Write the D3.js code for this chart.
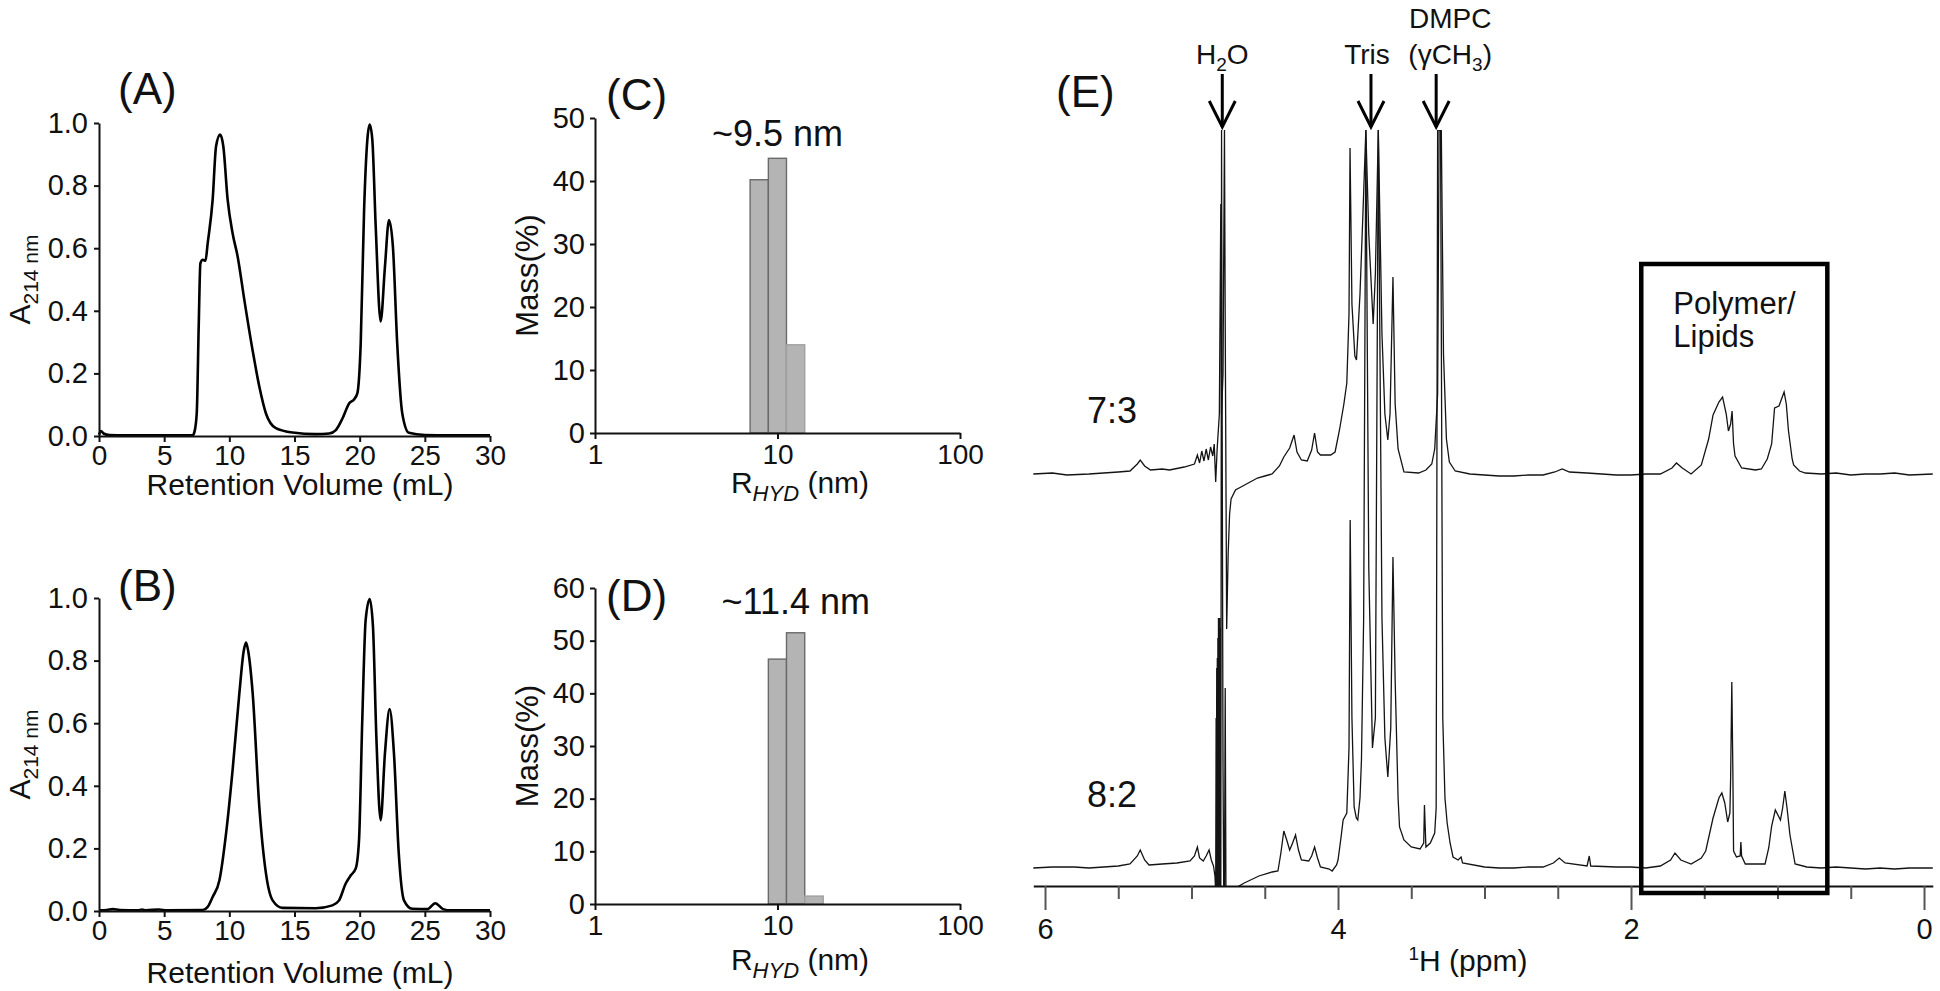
<!DOCTYPE html>
<html>
<head>
<meta charset="utf-8">
<script src="https://d3js.org/d3.v7.min.js"></script>
<style>
  html, body { margin: 0; padding: 0; background: #fff; }
  svg text { font-family: "Liberation Sans", Arial, Helvetica, sans-serif; fill: #111; }
</style>
</head>
<body>
<script>
// ---------- data ----------

// SEC traces: [retention volume (mL), A214]
const secTicksX = [0, 5, 10, 15, 20, 25, 30];
const secTicksY = [0, 0.2, 0.4, 0.6, 0.8, 1.0];

const secA = [
  [0, 0.004], [0.15, 0.016], [0.35, 0.008], [0.8, 0.003], [2, 0.002], [4, 0.002], [6, 0.002],
  [7.2, 0.003], [7.33, 0.014], [7.5, 0.073], [7.65, 0.35], [7.78, 0.552], [7.96, 0.563],
  [8.17, 0.56], [8.34, 0.616], [8.72, 0.755], [8.98, 0.925], [9.29, 0.963], [9.54, 0.925],
  [9.87, 0.755], [10.25, 0.648], [10.64, 0.573], [11.15, 0.435], [11.78, 0.275], [12.3, 0.158],
  [12.81, 0.072], [13.57, 0.025], [14.85, 0.011], [16.64, 0.006], [17.66, 0.008], [18.17, 0.019],
  [18.68, 0.056], [19.19, 0.104], [19.57, 0.117], [19.82, 0.136], [20.08, 0.296], [20.34, 0.723],
  [20.59, 0.947], [20.77, 0.995], [20.97, 0.947], [21.23, 0.67], [21.61, 0.366], [21.94, 0.541],
  [22.25, 0.69], [22.55, 0.605], [22.88, 0.296], [23.27, 0.072], [23.78, 0.01], [25, 0.003],
  [27, 0.002], [30, 0.002]
];

const secB = [
  [0, 0.002], [0.6, 0.003], [1.05, 0.006], [1.6, 0.003], [3.0, 0.002], [3.3, 0.005], [3.6, 0.002],
  [4.6, 0.005], [5.2, 0.002], [7.96, 0.003], [8.34, 0.013], [8.72, 0.045], [9.24, 0.098],
  [9.75, 0.248], [10.25, 0.45], [10.77, 0.696], [11.1, 0.83], [11.28, 0.858], [11.45, 0.83],
  [11.79, 0.696], [12.3, 0.333], [12.81, 0.12], [13.32, 0.034], [14.08, 0.01], [16.64, 0.009],
  [17.91, 0.018], [18.42, 0.034], [18.93, 0.088], [19.32, 0.114], [19.7, 0.136], [19.95, 0.226],
  [20.2, 0.61], [20.46, 0.93], [20.77, 0.997], [21.02, 0.909], [21.28, 0.557], [21.61, 0.29],
  [21.94, 0.504], [22.3, 0.645], [22.63, 0.504], [23.0, 0.184], [23.4, 0.034], [24.03, 0.007],
  [25.2, 0.006], [25.8, 0.025], [26.4, 0.006], [27, 0.002], [30, 0.002]
];

// DLS histograms: bin edges (nm) and mass (%)
const rhydTicks = [1, 10, 100];
const massTicksC = [0, 10, 20, 30, 40, 50];
const massTicksD = [0, 10, 20, 30, 40, 50, 60];
const binEdgesC = [7.08, 8.91, 11.2, 14.1];
const massC = [40.2, 43.6, 14.0];
const binEdgesD = [8.91, 11.2, 14.1, 17.8];
const massD = [46.5, 51.5, 1.5];

// 1H NMR traces: [ppm, intensity (a.u.)]
const ppmTicks = [6, 4, 2, 0];
const ppmMinorTicks = [5.5, 5, 4.5, 3.5, 3, 2.5, 1.5, 1, 0.5];

const nmr73 = [
  [6.08, 0], [5.95, 1], [5.85, -1], [5.7, 0], [5.6, 1], [5.5, 2], [5.42, 3], [5.37, 10], [5.35, 14],
  [5.32, 8], [5.28, 4], [5.2, 5], [5.15, 4], [5.05, 7], [4.98, 10], [4.96, 19], [4.945, 11],
  [4.93, 23], [4.915, 13], [4.90, 25], [4.885, 14], [4.87, 27], [4.855, 18], [4.845, 30],
  [4.835, -8], [4.825, 25], [4.81, 60], [4.80, 270], [4.795, 60], [4.785, 100], [4.775, 344],
  [4.77, 150], [4.76, -155], [4.75, -80], [4.74, -40], [4.73, -25], [4.70, -16], [4.65, -12],
  [4.6, -8], [4.55, -4], [4.5, -2], [4.45, 0], [4.4, 8], [4.37, 17], [4.33, 26], [4.30, 39],
  [4.28, 22], [4.25, 14], [4.21, 13], [4.18, 24], [4.16, 41], [4.14, 22], [4.12, 19], [4.05, 19],
  [4.02, 22], [3.99, 44], [3.96, 70], [3.94, 91], [3.925, 160], [3.918, 326], [3.905, 170],
  [3.885, 118], [3.874, 114], [3.85, 180], [3.83, 260], [3.81, 344], [3.79, 240], [3.76, 150],
  [3.745, 200], [3.725, 344], [3.70, 140], [3.68, 60], [3.66, 34], [3.645, 60], [3.625, 197],
  [3.61, 70], [3.59, 25], [3.55, 2], [3.45, 1], [3.40, 4], [3.36, 10], [3.34, 25], [3.32, 80],
  [3.31, 344], [3.295, 344], [3.28, 120], [3.26, 35], [3.24, 12], [3.2, 3], [3.1, 0], [3.0, -1],
  [2.9, -2], [2.8, -2], [2.7, -1], [2.6, -1], [2.52, 2], [2.47, 5], [2.42, 2], [2.3, 1], [2.2, 0],
  [2.1, -1], [2.0, -1], [1.9, 0], [1.8, 0], [1.72, 6], [1.69, 11], [1.65, 6], [1.59, 0],
  [1.52, 9], [1.47, 35], [1.44, 59], [1.40, 72], [1.375, 77], [1.35, 60], [1.335, 43], [1.32, 50],
  [1.31, 63], [1.30, 30], [1.29, 18], [1.245, 6], [1.15, 4], [1.11, 5], [1.07, 15], [1.04, 30],
  [1.02, 66], [0.99, 68], [0.975, 74], [0.955, 82], [0.94, 70], [0.925, 43], [0.9, 15],
  [0.89, 9], [0.85, 3], [0.81, 1], [0.7, 0], [0.6, 1], [0.5, -1], [0.4, 0], [0.3, 0],
  [0.2, 1], [0.1, -1], [-0.06, 0]
];

const nmr82 = [
  [6.08, 0], [5.95, 1], [5.8, 1], [5.7, 0], [5.6, 1], [5.5, 2], [5.42, 4], [5.37, 12], [5.35, 18],
  [5.32, 8], [5.29, 3], [5.2, 4], [5.1, 5], [5.01, 7], [4.98, 12], [4.96, 21], [4.945, 10],
  [4.92, 7], [4.9, 12], [4.88, 18], [4.865, 8], [4.85, 2], [4.84, -8], [4.835, -25],
  [4.832, 150], [4.83, -25], [4.828, 200], [4.826, -25], [4.824, 210], [4.822, -25],
  [4.82, 230], [4.818, -25], [4.816, 250], [4.814, -25], [4.812, 250], [4.81, -25],
  [4.808, 250], [4.806, -25], [4.804, 240], [4.80, -25], [4.795, 738], [4.79, 400],
  [4.785, 100], [4.78, -25], [4.775, -25], [4.77, 180], [4.765, -25], [4.74, -25],
  [4.70, -20], [4.64, -15], [4.54, -8], [4.45, -4], [4.41, -3], [4.39, 15], [4.37, 37],
  [4.35, 28], [4.33, 18], [4.31, 25], [4.29, 33], [4.27, 18], [4.25, 8], [4.2, 7], [4.18, 12],
  [4.16, 21], [4.14, 10], [4.12, 1], [4.06, -1], [4.04, -3], [4.01, 3], [4.00, 8], [3.98, 30],
  [3.965, 48], [3.94, 55], [3.925, 120], [3.917, 348], [3.905, 150], [3.89, 61], [3.875, 50],
  [3.865, 48], [3.85, 70], [3.84, 108], [3.825, 250], [3.81, 738], [3.79, 300], [3.765, 120],
  [3.745, 150], [3.725, 738], [3.70, 250], [3.68, 130], [3.66, 91], [3.64, 140], [3.625, 311],
  [3.61, 188], [3.59, 70], [3.58, 41], [3.55, 28], [3.50, 21], [3.44, 19], [3.415, 25],
  [3.41, 63], [3.40, 21], [3.37, 25], [3.34, 35], [3.33, 60], [3.32, 738], [3.30, 738],
  [3.285, 150], [3.27, 70], [3.255, 45], [3.235, 25], [3.215, 11], [3.18, 8], [3.16, 11],
  [3.15, 5], [3.0, 1], [2.9, 0], [2.8, 0], [2.7, 1], [2.6, 1], [2.53, 5], [2.49, 10], [2.45, 5],
  [2.3, 2], [2.285, 12], [2.275, 2], [2.1, 1], [2.0, 1], [1.9, 0], [1.8, 2], [1.73, 8],
  [1.70, 15], [1.66, 8], [1.59, 4], [1.52, 10], [1.49, 17], [1.44, 50], [1.40, 70], [1.38, 75],
  [1.36, 65], [1.34, 46], [1.325, 55], [1.32, 90], [1.312, 186], [1.305, 100], [1.30, 17],
  [1.28, 11], [1.255, 12], [1.25, 26], [1.245, 12], [1.22, 4], [1.085, 4], [1.06, 20], [1.04, 42],
  [1.015, 58], [0.98, 48], [0.965, 60], [0.95, 77], [0.935, 60], [0.915, 33], [0.88, 4],
  [0.8, 1], [0.7, 0], [0.6, 1], [0.5, 0], [0.4, -1], [0.3, 0], [0.2, -1], [0.1, 0], [-0.06, 0]
];

// arrows above the spectra: label lines, the shift they point at, label offset (px)
const peakMarks = [
  { lines: [["H", "2", "O"]], ppm: 4.79, dx: 0 },
  { lines: [["Tris"]], ppm: 3.775, dx: -4 },
  { lines: [["DMPC"], ["(\u03B3CH", "3", ")"]], ppm: 3.33, dx: 14 }
];
const ratioLabels = ["7:3", "8:2"];
const boxRange = [1.93, 0.66];

// ---------- drawing ----------
const W = 1940, H = 991;
const svg = d3.select("body").append("svg").attr("width", W).attr("height", H);

function styleAxis(g, size) {
  g.select(".domain").attr("stroke", "#111").attr("stroke-width", 2);
  g.selectAll(".tick line").attr("stroke", "#111").attr("stroke-width", 2);
  g.selectAll(".tick text").attr("font-size", size).attr("fill", "#111")
    .attr("font-family", "'Liberation Sans', Arial, sans-serif");
}

function panelTag(x, y, s) {
  svg.append("text").attr("x", x).attr("y", y).attr("font-size", 44).text(s);
}

// SEC panels (A), (B)
function secPanel(data, top, bottom, tag, tagY, titleY) {
  const x = d3.scaleLinear().domain([0, 30]).range([99, 490]);
  const y = d3.scaleLinear().domain([0, 1]).range([bottom, top]);
  const g = svg.append("g");

  g.append("path").datum(data)
    .attr("fill", "none").attr("stroke", "#000").attr("stroke-width", 2.6)
    .attr("stroke-linejoin", "round")
    .attr("d", d3.line().x(d => x(d[0])).y(d => y(d[1])).curve(d3.curveMonotoneX));

  const ax = g.append("g").attr("transform", `translate(0,${bottom})`)
    .call(d3.axisBottom(x).tickValues(secTicksX).tickSize(6).tickSizeOuter(0).tickPadding(3)
      .tickFormat(d3.format("d")));
  styleAxis(ax, 28);

  const ay = g.append("g").attr("transform", `translate(${x(0)},0)`)
    .call(d3.axisLeft(y).tickValues(secTicksY).tickSize(5).tickSizeOuter(0).tickPadding(6)
      .tickFormat(d3.format(".1f")));
  styleAxis(ay, 29);

  g.append("text").attr("x", 300).attr("y", titleY).attr("text-anchor", "middle")
    .attr("font-size", 30).text("Retention Volume (mL)");

  const yt = g.append("text")
    .attr("transform", `translate(30,${(top + bottom) / 2}) rotate(-90)`)
    .attr("text-anchor", "middle").attr("font-size", 30);
  yt.append("tspan").text("A");
  yt.append("tspan").attr("dy", 8).attr("font-size", 21).text("214 nm");

  panelTag(118, tagY, tag);
}

secPanel(secA, 123, 436, "(A)", 104, 495);
secPanel(secB, 598, 911, "(B)", 601, 983);

// DLS panels (C), (D)
function dlsPanel(edges, mass, yMax, ticks, top, bottom, tag, tagY, note, noteY, titleY) {
  const x = d3.scaleLog().domain([1, 100]).range([595, 960]);
  const y = d3.scaleLinear().domain([0, yMax]).range([bottom, top]);
  const g = svg.append("g");

  const bins = mass.map((v, i) => ({ lo: edges[i], hi: edges[i + 1], v }));
  g.selectAll("rect.bin").data(bins).enter().append("rect")
    .attr("class", "bin")
    .attr("x", d => x(d.lo))
    .attr("y", d => y(d.v))
    .attr("width", d => x(d.hi) - x(d.lo))
    .attr("height", d => y(0) - y(d.v))
    .attr("fill", "#b4b4b4")
    .attr("stroke", (d, i) => i < 2 ? "#6a6a6a" : "#a0a0a0")
    .attr("stroke-width", 1.4);

  const ax = g.append("g").attr("transform", `translate(0,${bottom})`)
    .call(d3.axisBottom(x).tickValues(rhydTicks).tickSize(6).tickSizeOuter(0).tickPadding(5)
      .tickFormat(d3.format("d")));
  styleAxis(ax, 28);

  const ay = g.append("g").attr("transform", `translate(${x(1)},0)`)
    .call(d3.axisLeft(y).tickValues(ticks).tickSize(5).tickSizeOuter(0).tickPadding(5)
      .tickFormat(d3.format("d")));
  styleAxis(ay, 29);

  const xt = g.append("text").attr("x", 800).attr("y", titleY).attr("text-anchor", "middle")
    .attr("font-size", 30);
  xt.append("tspan").text("R");
  xt.append("tspan").attr("dy", 8).attr("font-size", 22).attr("font-style", "italic").text("HYD");
  xt.append("tspan").attr("dy", -8).text(" (nm)");

  g.append("text")
    .attr("transform", `translate(538,${(top + bottom) / 2}) rotate(-90)`)
    .attr("text-anchor", "middle").attr("font-size", 31).text("Mass(%)");

  // size note centred over the histogram
  const mid = Math.sqrt(edges[0] * edges[edges.length - 1]);
  g.append("text").attr("x", x(mid)).attr("y", noteY).attr("text-anchor", "middle")
    .attr("font-size", 36).text(note);

  panelTag(606, tagY, tag);
}

dlsPanel(binEdgesC, massC, 50, massTicksC, 118, 433, "(C)", 110, "~9.5 nm", 146, 493);
dlsPanel(binEdgesD, massD, 60, massTicksD, 588, 904, "(D)", 611, "~11.4 nm", 614, 970);

// NMR panel (E)
(function nmrPanel() {
  const axisY = 886, plotTop = 130;
  const xp = d3.scaleLinear().domain([6.08, -0.06]).range([1033.3, 1932.8]);
  const yTop = d3.scaleLinear().domain([0, 344]).range([474, plotTop]);
  const yBot = d3.scaleLinear().domain([0, 738]).range([868, plotTop]);
  const g = svg.append("g");

  svg.append("defs").append("clipPath").attr("id", "nmr-clip")
    .append("rect").attr("x", 1030).attr("y", plotTop).attr("width", 910).attr("height", axisY - plotTop);

  const traces = g.append("g").attr("clip-path", "url(#nmr-clip)");
  [[nmr82, yBot], [nmr73, yTop]].forEach(([data, ys]) => {
    traces.append("path").datum(data)
      .attr("fill", "none").attr("stroke", "#141414").attr("stroke-width", 1.3)
      .attr("d", d3.line().x(d => xp(d[0])).y(d => ys(d[1])));
  });

  // axis with long labelled ticks and short minor ticks
  const ax = g.append("g").attr("transform", `translate(0,${axisY})`)
    .call(d3.axisBottom(xp).tickValues(ppmTicks).tickSize(24).tickSizeOuter(0).tickPadding(8)
      .tickFormat(d3.format("d")));
  styleAxis(ax, 29);
  ax.selectAll(".tick line").attr("stroke", "#555");
  g.append("g").attr("transform", `translate(0,${axisY})`)
    .call(d3.axisBottom(xp).tickValues(ppmMinorTicks).tickSize(13).tickSizeOuter(0).tickFormat(""))
    .call(a => a.select(".domain").remove())
    .selectAll(".tick line").attr("stroke", "#555").attr("stroke-width", 2);

  const xt = g.append("text").attr("x", 1468).attr("y", 971).attr("text-anchor", "middle")
    .attr("font-size", 30);
  xt.append("tspan").attr("dy", -11).attr("font-size", 19).text("1");
  xt.append("tspan").attr("dy", 11).text("H (ppm)");

  // highlight box
  g.append("rect")
    .attr("x", xp(boxRange[0])).attr("y", 264)
    .attr("width", xp(boxRange[1]) - xp(boxRange[0])).attr("height", 629)
    .attr("fill", "none").attr("stroke", "#000").attr("stroke-width", 4.5);
  const bl = g.append("text").attr("x", xp(boxRange[0]) + 32).attr("y", 314).attr("font-size", 31);
  bl.append("tspan").text("Polymer/");
  bl.append("tspan").attr("x", xp(boxRange[0]) + 32).attr("dy", 33).text("Lipids");

  // ratio labels next to each trace
  g.append("text").attr("x", 1087).attr("y", 423).attr("font-size", 36).text(ratioLabels[0]);
  g.append("text").attr("x", 1087).attr("y", 807).attr("font-size", 36).text(ratioLabels[1]);

  // arrows with labels
  peakMarks.forEach(m => {
    const cx = xp(m.ppm);
    const y1 = 74, y2 = 127;
    g.append("line").attr("x1", cx).attr("x2", cx).attr("y1", y1).attr("y2", y2)
      .attr("stroke", "#000").attr("stroke-width", 3);
    g.append("polyline")
      .attr("points", `${cx - 13},${y2 - 26} ${cx},${y2} ${cx + 13},${y2 - 26}`)
      .attr("fill", "none").attr("stroke", "#000").attr("stroke-width", 3);
    const n = m.lines.length;
    m.lines.forEach((parts, li) => {
      const t = g.append("text").attr("x", cx + m.dx).attr("y", 64 - (n - 1 - li) * 36)
        .attr("text-anchor", "middle").attr("font-size", 28);
      parts.forEach((p, pi) => {
        if (pi === 1) t.append("tspan").attr("dy", 7).attr("font-size", 19).text(p);
        else if (pi === 2) t.append("tspan").attr("dy", -7).text(p);
        else t.append("tspan").text(p);
      });
    });
  });

  panelTag(1056, 107, "(E)");
})();
</script>
</body>
</html>
